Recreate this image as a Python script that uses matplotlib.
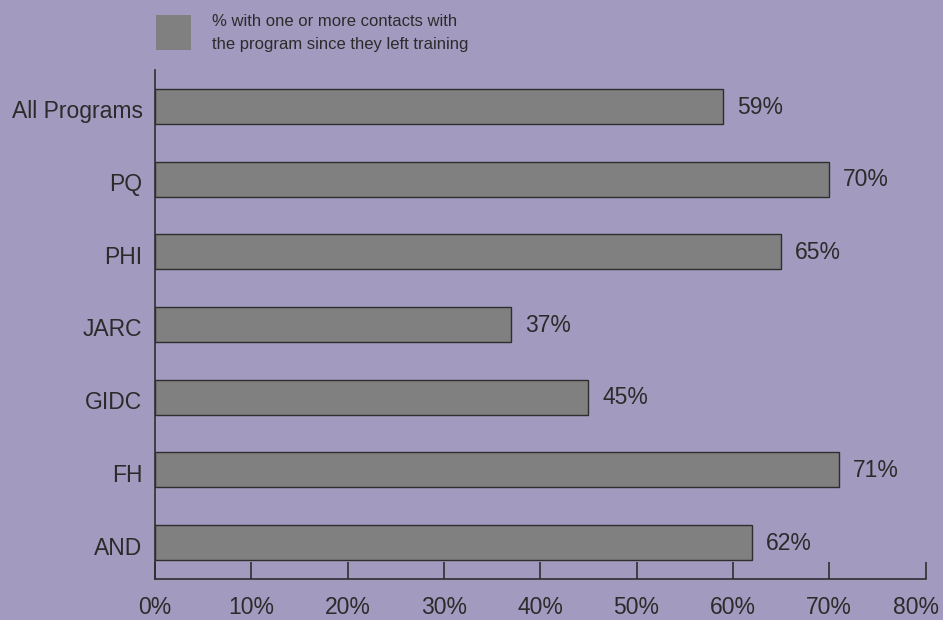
import matplotlib
matplotlib.use("Agg")
import matplotlib.pyplot as plt
from matplotlib.patches import Rectangle
from matplotlib.transforms import offset_copy

categories = ["AND", "FH", "GIDC", "JARC", "PHI", "PQ", "All Programs"]
values = [62, 71, 45, 37, 65, 70, 59]
xticks = [0, 10, 20, 30, 40, 50, 60, 70, 80]
legend_label = "% with one or more contacts with\nthe program since they left training"

bg = "#a39bbf"
bar_color = "#808080"
text_color = "#2b2b2b"

plt.rcParams["font.family"] = ["Liberation Sans", "DejaVu Sans"]

fig = plt.figure(figsize=(9.43, 6.2), dpi=100, facecolor=bg)
ax = fig.add_axes([155 / 943, 1 - 579 / 620, (925.5 - 155) / 943, (579 - 70) / 620])
ax.set_facecolor(bg)

y = range(len(categories))
ax.barh(y, values, height=0.48, color=bar_color, edgecolor="#2e2e2e", linewidth=1.0)

for yi, v in zip(y, values):
    ax.text(v + 1.45, yi - 0.01, f"{v}%", va="center", ha="left",
            fontsize=16.5, color=text_color)

ax.set_xlim(0, 80)
ax.set_ylim(-0.5, len(categories) - 0.5)
ax.set_xticks(xticks)
ax.set_xticklabels([f"{t}%" for t in xticks], fontsize=16.5, color=text_color)
ax.set_yticks(list(y))
ax.set_yticklabels(categories, fontsize=16.5, color=text_color)

ax.tick_params(axis="x", direction="in", length=12, width=1.2, color="#2e2e2e", pad=12)
ax.tick_params(axis="y", length=0, pad=9)

# keep the last tick label inside the figure
lbl = ax.get_xticklabels()[-1]
lbl.set_horizontalalignment("right")
lbl.set_transform(offset_copy(lbl.get_transform(), fig=fig, x=13, y=0, units="dots"))

# drop the category labels a touch below the bar centres
for t in ax.get_yticklabels():
    t.set_transform(offset_copy(t.get_transform(), fig=fig, x=0, y=-3, units="dots"))

for side in ("top", "right"):
    ax.spines[side].set_visible(False)
for side in ("left", "bottom"):
    ax.spines[side].set_color("#2e2e2e")
    ax.spines[side].set_linewidth(1.2)

# legend swatch and label
fig.patches.append(Rectangle((156 / 943, 1 - 50 / 620), 35 / 943, 35 / 620,
                             transform=fig.transFigure, facecolor=bar_color,
                             edgecolor="none"))
fig.text(212 / 943, 1 - 33 / 620, legend_label, fontsize=12, color=text_color,
         va="center", ha="left", linespacing=1.75)

fig.savefig("out.png", dpi=100, facecolor=bg)
